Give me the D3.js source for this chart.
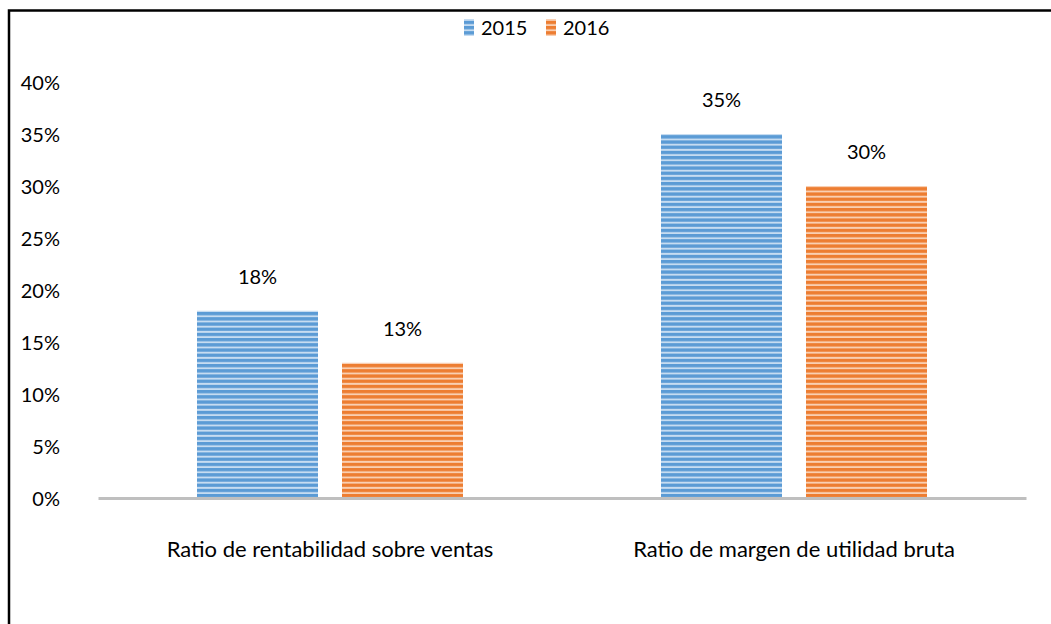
<!DOCTYPE html>
<html>
<head>
<meta charset="utf-8">
<script src="https://cdn.jsdelivr.net/npm/d3@7"></script>
<style>
  html, body { margin: 0; padding: 0; background: #fff; }
  svg { display: block; font-family: Lato, "Open Sans", sans-serif; }
</style>
</head>
<body>
<svg id="chart" width="1051" height="624"></svg>
<script>
const categories = ["Ratio de rentabilidad sobre ventas", "Ratio de margen de utilidad bruta"];
const seriesNames = ["2015", "2016"];
const values2015 = [0.18, 0.35];
const values2016 = [0.13, 0.30];
const yTicks = [0, 0.05, 0.10, 0.15, 0.20, 0.25, 0.30, 0.35, 0.40];

const seriesValues = [values2015, values2016];
const colors = { "2015": ["#5b9bd5", "#c6dcf1"], "2016": ["#ed7d31", "#f9cfb2"] };

const svg = d3.select("#chart");
const numSize = 20, catSize = 22;

// outer frame (top and left visible)
svg.append("rect").attr("x", 9).attr("y", 10.5).attr("width", 1100).attr("height", 700)
  .attr("fill", "none").attr("stroke", "#000").attr("stroke-width", 2.5);

// patterns
const defs = svg.append("defs");
seriesNames.forEach((s) => {
  const p = defs.append("pattern").attr("id", "pat" + s).attr("patternUnits", "userSpaceOnUse")
    .attr("width", 8).attr("height", 5.2);
  p.append("rect").attr("width", 8).attr("height", 5.2).attr("fill", colors[s][0]);
  p.append("rect").attr("y", 3.3).attr("width", 8).attr("height", 1.9).attr("fill", colors[s][1]);
});

const x0 = d3.scaleBand().domain(categories).range([98, 1026]);
const x1 = d3.scaleBand().domain(seriesNames).range([99, 99 + 266]).paddingInner(24 / 145);
const y = d3.scaleLinear().domain([0, 0.40]).range([498, 82]);
const fmt = d3.format(".0%");

// y axis labels
const yAxis = d3.axisLeft(y).tickValues(yTicks).tickFormat(fmt).tickSize(0).tickPadding(0);
const yg = svg.append("g").attr("transform", "translate(60,0)").call(yAxis);
yg.select(".domain").remove();
yg.selectAll("text").attr("font-size", numSize).attr("font-family", "Lato").attr("fill", "#000")
  .attr("dy", "0.35em");

// bars
const groups = svg.append("g").selectAll("g").data(categories).join("g")
  .attr("transform", d => `translate(${x0(d)},0)`);
groups.each(function (cat, ci) {
  const g = d3.select(this);
  seriesNames.forEach((s, si) => {
    const v = seriesValues[si][ci];
    g.append("rect").attr("x", x1(s)).attr("y", y(v)).attr("width", x1.bandwidth())
      .attr("height", y(0) - y(v)).attr("fill", `url(#pat${s})`);
    g.append("text").attr("x", x1(s) + x1.bandwidth() / 2).attr("y", y(v) - 34)
      .attr("dy", "0.35em").attr("text-anchor", "middle").attr("font-size", numSize)
      .text(fmt(v));
  });
});

// x axis line
const xAxis = d3.axisBottom(x0).tickSize(0).tickPadding(0);
const xg = svg.append("g").attr("transform", "translate(0,498)").call(xAxis);
xg.select(".domain").attr("stroke", "#bfbfbf").attr("stroke-width", 3);
xg.selectAll("text").attr("font-size", catSize).attr("font-family", "Lato").attr("fill", "#000")
  .attr("y", 51).attr("dy", "0.35em");

// legend
const legend = svg.append("g");
const lx = [464, 546];
seriesNames.forEach((s, i) => {
  legend.append("rect").attr("x", lx[i]).attr("y", 19).attr("width", 10).attr("height", 17)
    .attr("fill", `url(#pat${s})`);
  legend.append("text").attr("x", lx[i] + 17).attr("y", 28).attr("dy", "0.35em")
    .attr("font-size", numSize).text(s);
});
</script>
</body>
</html>
